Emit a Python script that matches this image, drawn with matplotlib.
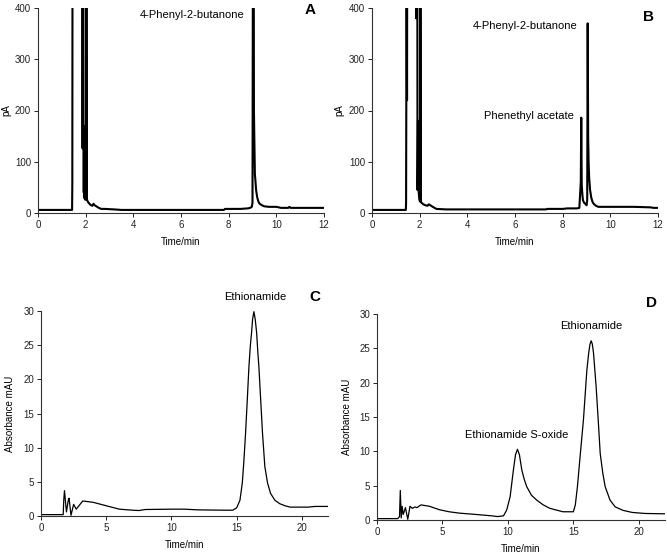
import matplotlib
matplotlib.use("Agg")
import matplotlib.pyplot as plt

plt.rcParams['font.family'] = ['Liberation Sans', 'DejaVu Sans']

# ---------------- data ----------------
# Panel A (GC, pA) - values above 400 are off-scale
a_time = [0, 1.43, 1.44, 1.45, 1.46, 1.86, 1.87, 1.88, 1.90, 1.91, 1.92, 1.93, 1.94, 1.95, 1.96,
          1.98, 2.02, 2.03, 2.05, 2.07, 2.12, 2.2, 2.28, 2.33, 2.38, 2.45, 2.55, 2.65, 2.8,
          3.2, 3.5, 5.0, 7.0, 7.8, 7.85, 8.5, 8.8, 8.9, 8.97, 9.0, 9.02, 9.05, 9.06, 9.08,
          9.10, 9.12, 9.15, 9.2, 9.25, 9.3, 9.4, 9.5, 9.7, 10.0, 10.2, 10.5, 10.55, 10.6, 11.0, 12.0]
a_signal = [6, 6, 58, 600, 600, 600, 126, 600, 600, 184, 40, 170, 30, 120, 28,
            26, 26, 600, 28, 24, 20, 16, 14, 18, 15, 13, 10, 8, 8,
            7, 6, 6, 6, 6, 8, 8, 9, 10, 12, 20, 600, 600, 200, 136,
            75, 65, 45, 30, 22, 18, 15, 13, 12, 12, 10, 10, 12, 10, 10, 10]

# Panel B (GC, pA)
b_time = [0, 1.42, 1.43, 1.44, 1.45, 1.47, 1.48, 1.84, 1.85, 1.86, 1.90, 1.91, 1.93, 1.94,
          1.96, 1.98, 2.0, 2.02, 2.03, 2.05, 2.08, 2.15, 2.25, 2.33, 2.38, 2.45, 2.55, 2.7,
          3.1, 3.5, 5.0, 7.0, 7.3, 7.35, 8.0, 8.2, 8.6, 8.7, 8.76, 8.78, 8.80, 8.82, 8.85,
          8.9, 8.97, 9.0, 9.03, 9.05, 9.07, 9.09, 9.11, 9.15, 9.2, 9.25, 9.3, 9.4, 9.5,
          9.8, 11.0, 11.7, 11.8, 12.0]
b_signal = [6, 6, 20, 225, 600, 220, 600, 600, 380, 600, 600, 45, 180, 60,
            40, 28, 24, 22, 600, 22, 20, 17, 15, 14, 17, 15, 12, 8,
            7, 7, 7, 7, 7, 8, 8, 9, 9, 10, 60, 186, 55, 40, 25,
            20, 17, 15, 25, 370, 145, 97, 70, 45, 30, 22, 18, 14, 12,
            12, 12, 11, 10, 10]

# Panel C (HPLC, mAU)
c_time = [0, 1.7, 1.75, 1.8, 1.95, 2.1, 2.15, 2.3, 2.5, 2.7, 3.2, 4.0, 5.0, 6.0, 7.0, 7.5,
          8.0, 10.0, 11.0, 12.0, 14.0, 14.7, 15.0, 15.25, 15.43, 15.55, 15.68, 15.8, 15.94,
          16.05, 16.14, 16.22, 16.32, 16.42, 16.53, 16.62, 16.7, 16.84, 16.98, 17.16, 17.37,
          17.6, 17.93, 18.3, 18.7, 19.1, 20.0, 20.5, 21.0, 22.0]
c_signal = [0.2, 0.2, 2.5, 3.7, 0.6, 2.4, 2.6, 0.1, 1.7, 1.0, 2.2, 2.0, 1.5, 1.0, 0.85, 0.8,
            0.95, 1.0, 1.0, 0.9, 0.85, 0.85, 1.2, 2.3, 4.8, 8.0, 12.1, 16.5, 21.9,
            25.0, 26.8, 28.8, 29.9, 28.8, 26.8, 24.0, 21.9, 17.0, 12.1, 7.2, 4.8,
            3.3, 2.3, 1.8, 1.5, 1.3, 1.3, 1.3, 1.4, 1.4]

# Panel D (HPLC, mAU)
d_time = [0, 1.58, 1.72, 1.78, 1.85, 1.92, 2.0, 2.17, 2.35, 2.52, 2.7, 2.9, 3.05, 3.36,
          4.0, 4.76, 5.5, 6.3, 7.6, 8.8, 9.2, 9.66, 9.91, 10.17, 10.42, 10.58, 10.73, 10.88,
          11.06, 11.25, 11.44, 11.8, 12.2, 12.7, 13.2, 14.2, 15.0, 15.15, 15.31, 15.55, 15.77,
          16.03, 16.17, 16.27, 16.36, 16.45, 16.54, 16.74, 16.9, 17.05, 17.25, 17.43, 17.8,
          18.2, 18.8, 19.5, 20.5, 22.0]
d_signal = [0.2, 0.2, 0.5, 4.3, 0.3, 2.0, 0.8, 1.8, 0.1, 2.0, 1.7, 1.9, 1.8, 2.2,
            2.0, 1.5, 1.2, 1.0, 0.8, 0.6, 0.5, 0.6, 1.46, 3.4, 7.3, 9.5, 10.3, 9.5,
            7.3, 5.9, 4.85, 3.6, 2.9, 2.2, 1.7, 1.2, 1.2, 2.2, 4.85, 10.0, 14.6,
            21.8, 24.3, 25.6, 26.1, 25.6, 24.3, 19.4, 14.5, 9.7, 6.8, 4.85, 2.9,
            1.9, 1.4, 1.1, 0.95, 0.9]

W, H = 667, 554
fig = plt.figure(figsize=(W / 100, H / 100), dpi=100)


def make_ax(x0, x1, y0, y1, ylabel_px):
    ax = fig.add_axes([x0 / W, 1 - y1 / H, (x1 - x0) / W, (y1 - y0) / H])
    for s in ('top', 'right'):
        ax.spines[s].set_visible(False)
    for s in ('left', 'bottom'):
        ax.spines[s].set_linewidth(0.8)
        ax.spines[s].set_color('#333333')
    ax.tick_params(labelsize=7, length=3, width=0.7, direction='out', pad=2, colors='#222222')
    ax.yaxis.set_label_coords((ylabel_px - x0) / (x1 - x0), 0.5)
    return ax


# A
axA = make_ax(38, 324, 8, 213, 11)
axA.plot(a_time, a_signal, color='black', lw=1.5)
axA.set_xlim(0, 12)
axA.set_ylim(0, 400)
axA.set_xticks(range(0, 13, 2))
axA.set_yticks(range(0, 401, 100))
axA.set_xlabel('Time/min', fontsize=7, labelpad=5)
axA.set_ylabel('pA', fontsize=7)
axA.text(6.46, 386, '4-Phenyl-2-butanone', fontsize=8, ha='center', va='center', clip_on=False)
axA.text(11.4, 397, 'A', fontsize=11, fontweight='bold', ha='center', va='center', clip_on=False)

# B
axB = make_ax(372, 658, 8, 213, 344)
axB.plot(b_time, b_signal, color='black', lw=1.5)
axB.set_xlim(0, 12)
axB.set_ylim(0, 400)
axB.set_xticks(range(0, 13, 2))
axB.set_yticks(range(0, 401, 100))
axB.set_xlabel('Time/min', fontsize=7, labelpad=5)
axB.set_ylabel('pA', fontsize=7)
axB.text(6.44, 365, '4-Phenyl-2-butanone', fontsize=8, ha='center', va='center', clip_on=False)
axB.text(6.6, 190, 'Phenethyl acetate', fontsize=8, ha='center', va='center', clip_on=False)
axB.text(11.6, 382, 'B', fontsize=11, fontweight='bold', ha='center', va='center', clip_on=False)

# C
axC = make_ax(41, 328, 311, 516, 15)
axC.plot(c_time, c_signal, color='black', lw=0.9)
axC.set_xlim(0, 22)
axC.set_ylim(0, 30)
axC.set_xticks(range(0, 21, 5))
axC.set_yticks(range(0, 31, 5))
axC.set_xlabel('Time/min', fontsize=7, labelpad=5)
axC.set_ylabel('Absorbance mAU', fontsize=7)
axC.text(16.4, 32, 'Ethionamide', fontsize=8, ha='center', va='center', clip_on=False)
axC.text(21.0, 32, 'C', fontsize=11, fontweight='bold', ha='center', va='center', clip_on=False)

# D
axD = make_ax(377, 665, 314, 520, 352)
axD.plot(d_time, d_signal, color='black', lw=0.9)
axD.set_xlim(0, 22)
axD.set_ylim(0, 30)
axD.set_xticks(range(0, 21, 5))
axD.set_yticks(range(0, 31, 5))
axD.set_xlabel('Time/min', fontsize=7, labelpad=5)
axD.set_ylabel('Absorbance mAU', fontsize=7)
axD.text(16.36, 28.2, 'Ethionamide', fontsize=8, ha='center', va='center', clip_on=False)
axD.text(10.7, 12.4, 'Ethionamide S-oxide', fontsize=8, ha='center', va='center', clip_on=False)
axD.text(20.95, 31.6, 'D', fontsize=11, fontweight='bold', ha='center', va='center', clip_on=False)

fig.savefig('out.png', dpi=100, facecolor='white')
